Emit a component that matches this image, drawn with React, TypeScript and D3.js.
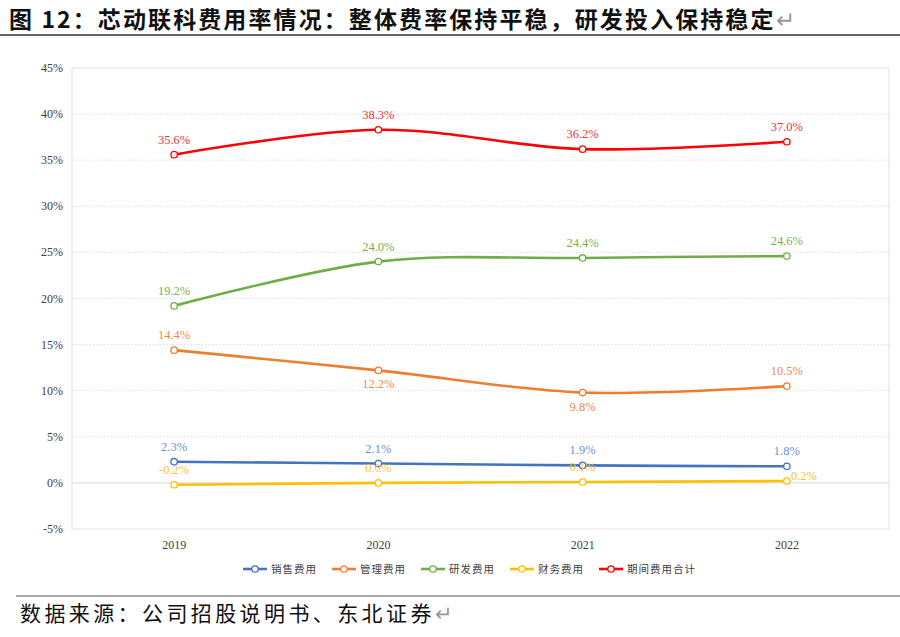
import React, { useRef, useEffect } from 'react'
import * as d3 from 'd3'

const years = ['2019', '2020', '2021', '2022']
const seriesNames = ['销售费用', '管理费用', '研发费用', '财务费用', '期间费用合计']
const seriesColors = ['#4472C4', '#ED7D31', '#70AD47', '#FFC000', '#FF0000']
const labelColors = ['#6f8fd0', '#ea8a4a', '#78b04f', '#f7c433', '#f0303a']
const sales = [2.3, 2.1, 1.9, 1.8]
const admin = [14.4, 12.2, 9.8, 10.5]
const rnd = [19.2, 24.0, 24.4, 24.6]
const finance = [-0.2, 0.0, 0.1, 0.2]
const total = [35.6, 38.3, 36.2, 37.0]
const seriesValues = [sales, admin, rnd, finance, total]
// where each data label sits relative to its point
const labelPos = [
  ['top', 'top', 'top', 'top'],
  ['top', 'bottom', 'bottom', 'top'],
  ['top', 'top', 'top', 'top'],
  ['top', 'top', 'top', 'right'],
  ['top', 'top', 'top', 'top'],
]
const yTicks = [-5, 0, 5, 10, 15, 20, 25, 30, 35, 40, 45]

const W = 900
const H = 637
const serif = '"Liberation Serif", "DejaVu Serif", serif'
const cjk = '"Noto Sans CJK SC", sans-serif'

const App: React.FC = () => {
  const svgRef = useRef<SVGSVGElement>(null)

  useEffect(() => {
    if (!svgRef.current) return
    const svg = d3.select(svgRef.current)
    svg.selectAll('*').remove()

    const left = 72, right = 889, top = 68, bottom = 529

    // 標題
    svg.append('text')
      .attr('x', 9).attr('y', 28)
      .attr('font-family', cjk).attr('font-weight', 'bold')
      .attr('font-size', 23).attr('fill', '#111')
      .attr('letter-spacing', 2.1)
      .text('图 12：芯动联科费用率情况：整体费率保持平稳，研发投入保持稳定')
      .append('tspan').attr('fill', '#999').attr('font-weight', 'normal').text('↵')

    svg.append('line')
      .attr('x1', 0).attr('x2', W).attr('y1', 35).attr('y2', 35)
      .attr('stroke', '#666').attr('stroke-width', 2)

    const x = d3.scaleBand<string>().domain(years).range([left, right])
    const cx = (d: string) => (x(d) || 0) + x.bandwidth() / 2
    const y = d3.scaleLinear().domain([-5, 45]).range([bottom, top])

    // 外框
    svg.append('rect')
      .attr('x', left).attr('y', top)
      .attr('width', right - left).attr('height', bottom - top)
      .attr('fill', 'none').attr('stroke', '#e3e3e3').attr('stroke-width', 1)

    // 網格線
    svg.append('g').selectAll('line')
      .data(yTicks.filter(t => t !== -5 && t !== 45))
      .enter().append('line')
      .attr('x1', left).attr('x2', right)
      .attr('y1', d => y(d)).attr('y2', d => y(d))
      .attr('stroke', d => d === 0 ? '#d9d9d9' : '#dedede')
      .attr('stroke-width', 1)
      .attr('stroke-dasharray', d => d === 0 ? null : '1.5,2')

    // Y 軸
    svg.append('g').selectAll('text')
      .data(yTicks).enter().append('text')
      .attr('x', left - 9).attr('y', d => y(d) + 4)
      .attr('text-anchor', 'end')
      .attr('font-family', serif).attr('font-size', 12).attr('fill', '#404040')
      .text(d => `${d}%`)

    // X 軸
    svg.append('g').selectAll('text')
      .data(years).enter().append('text')
      .attr('x', d => cx(d)).attr('y', 549)
      .attr('text-anchor', 'middle')
      .attr('font-family', serif).attr('font-size', 12).attr('fill', '#404040')
      .text(d => d)

    const line = d3.line<number>()
      .x((_, i) => cx(years[i]))
      .y(d => y(d))
      .curve(d3.curveCardinal.tension(0))

    seriesValues.forEach((vals, si) => {
      const g = svg.append('g')
      g.append('path')
        .attr('d', line(vals) || '')
        .attr('fill', 'none')
        .attr('stroke', seriesColors[si])
        .attr('stroke-width', 2.6)

      g.selectAll('circle')
        .data(vals).enter().append('circle')
        .attr('cx', (_, i) => cx(years[i]))
        .attr('cy', d => y(d))
        .attr('r', 3.2)
        .attr('fill', '#fff')
        .attr('stroke', seriesColors[si])
        .attr('stroke-width', 1.3)

      g.selectAll('text')
        .data(vals).enter().append('text')
        .attr('x', (_, i) => labelPos[si][i] === 'right' ? cx(years[i]) + 4 : cx(years[i]))
        .attr('y', (d, i) => {
          const p = labelPos[si][i]
          if (p === 'bottom') return y(d) + 18
          if (p === 'right') return y(d) - 1
          return y(d) - 11
        })
        .attr('text-anchor', (_, i) => labelPos[si][i] === 'right' ? 'start' : 'middle')
        .attr('font-family', serif).attr('font-size', 12.5)
        .attr('fill', labelColors[si])
        .text(d => `${d.toFixed(1)}%`)
    })

    // 圖例
    const legend = svg.append('g').attr('transform', 'translate(243, 569)')
    const items = legend.selectAll('g')
      .data(seriesNames).enter().append('g')
      .attr('transform', (_, i) => `translate(${i * 89}, 0)`)
    items.append('line')
      .attr('x1', 0).attr('x2', 24).attr('y1', 0).attr('y2', 0)
      .attr('stroke', (_, i) => seriesColors[i]).attr('stroke-width', 2.6)
    items.append('circle')
      .attr('cx', 12).attr('cy', 0).attr('r', 3.2)
      .attr('fill', '#fff').attr('stroke', (_, i) => seriesColors[i]).attr('stroke-width', 1.3)
    items.append('text')
      .attr('x', 28).attr('y', 4)
      .attr('font-family', cjk).attr('font-size', 10.5).attr('fill', '#404040')
      .attr('letter-spacing', 1)
      .text(d => d)

    // 資料來源
    svg.append('line')
      .attr('x1', 16).attr('x2', W).attr('y1', 596).attr('y2', 596)
      .attr('stroke', '#555').attr('stroke-width', 1.2)

    svg.append('text')
      .attr('x', 20).attr('y', 621)
      .attr('font-family', cjk).attr('font-size', 21).attr('fill', '#111')
      .attr('letter-spacing', 3.4)
      .text('数据来源：公司招股说明书、东北证券')
      .append('tspan').attr('fill', '#999').text('↵')
  }, [])

  return (
    <svg
      ref={svgRef}
      width={W}
      height={H}
      style={{ position: 'absolute', left: 0, top: 0, background: '#fff' }}
    />
  )
}

export default App
